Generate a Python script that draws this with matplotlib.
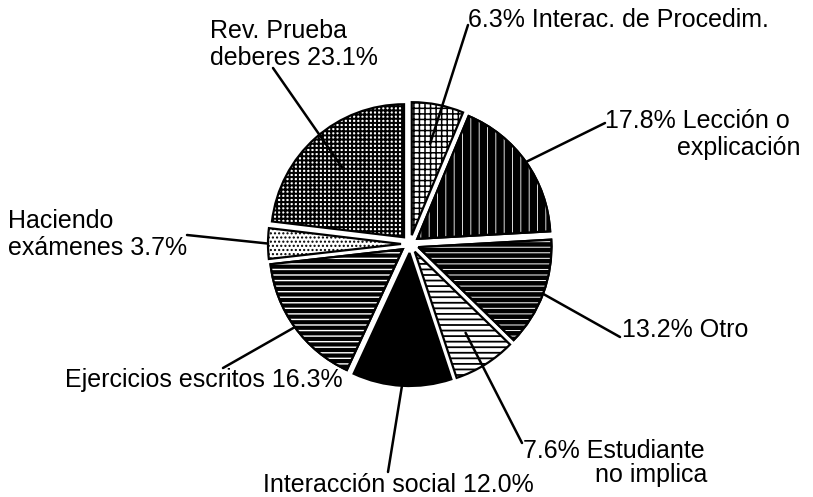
import matplotlib
matplotlib.use("Agg")
import matplotlib.pyplot as plt
from matplotlib.patches import Wedge
import numpy as np

plt.rcParams['font.family'] = ['Liberation Sans', 'DejaVu Sans']

# ---- data (clockwise from 12 o'clock) ----
categories = ["Interac. de Procedim.", "Lección o explicación", "Otro",
              "Estudiante no implica", "Interacción social",
              "Ejercicios escritos", "Haciendo exámenes", "Rev. Prueba deberes"]
values = [6.3, 17.8, 13.2, 7.6, 12.0, 16.3, 3.7, 23.1]

# ---- styles ----
faces = ['white', 'black', 'black', 'white', 'black', 'black', 'white', 'white']
black_hatch = ['+++', None, None, '---', None, None, '....', '++++']
black_hatch_lw = [1.1, 0, 0, 1.3, 0, 0, 1.0, 1.45]
white_hatch = [None, '||', '---', None, None, '---', None, None]
white_hatch_lw = [0, 0.6, 0.7, 0, 0, 1.0, 0, 0]

W, H = 813, 497
fig = plt.figure(figsize=(W / 100, H / 100), dpi=100)
ax = fig.add_axes([0, 0, 1, 1])

R = 133
wedges, _ = ax.pie(values, startangle=90, counterclock=False, radius=R,
                   center=(410, 253), explode=[9] * len(values),
                   colors=faces,
                   wedgeprops=dict(edgecolor='black', linewidth=1.6))
ax.set_xlim(0, W)
ax.set_ylim(0, H)
ax.set_aspect('equal')
ax.axis('off')

for w, bh, blw, wh, wlw in zip(wedges, black_hatch, black_hatch_lw,
                               white_hatch, white_hatch_lw):
    if bh:
        w.set_hatch(bh)
        try:
            w.set_hatch_linewidth(blw)
        except AttributeError:
            pass
    if wh:
        ov = Wedge(w.center, w.r, w.theta1, w.theta2, facecolor='none',
                   edgecolor='white', linewidth=0, hatch=wh, zorder=w.get_zorder() + 0.1)
        try:
            ov.set_hatch_linewidth(wlw)
        except AttributeError:
            pass
        ax.add_patch(ov)
        ol = Wedge(w.center, w.r, w.theta1, w.theta2, facecolor='none',
                   edgecolor='black', linewidth=1.6, zorder=w.get_zorder() + 0.2)
        ax.add_patch(ol)

# ---- labels (text, x, baseline y of last line in image pixels from top) ----
fs = 18
texts = [
    ("Rev. Prueba\ndeberes 23.1%", 210, 65),
    ("6.3% Interac. de Procedim.", 468, 27),
    ("17.8% Lección o", 605, 128),
    ("explicación", 677, 155),
    ("Haciendo\nexámenes 3.7%", 8, 255),
    ("13.2% Otro", 622, 337),
    ("Ejercicios escritos 16.3%", 65, 387),
    ("7.6% Estudiante", 523, 458),
    ("no implica", 595, 482),
    ("Interacción social 12.0%", 263, 492),
]
for t, x, y in texts:
    ax.text(x, H - y, t, fontsize=fs, ha='left', va='baseline', linespacing=1.15)

# leader lines: (wedge index, radial fraction, start point in image px)
leaders = [
    (7, 0.70, (273, 68)),
    (0, 0.70, (468, 25)),
    (1, 1.0, (605, 123)),
    (6, 1.0, (187, 235)),
    (2, 1.0, (620, 337)),
    (5, 1.0, (223, 368)),
    (4, 1.0, (388, 472)),
    (3, 0.72, (522, 443)),
]
for i, frac, (sx, sy) in leaders:
    w = wedges[i]
    a = np.deg2rad((w.theta1 + w.theta2) / 2)
    tx = w.center[0] + frac * w.r * np.cos(a)
    ty = w.center[1] + frac * w.r * np.sin(a)
    ax.annotate('', xy=(tx, ty), xytext=(sx, H - sy),
                arrowprops=dict(arrowstyle='-', lw=1.8, color='black',
                                shrinkA=0, shrinkB=0), zorder=5)

fig.savefig("out.png", dpi=100)
